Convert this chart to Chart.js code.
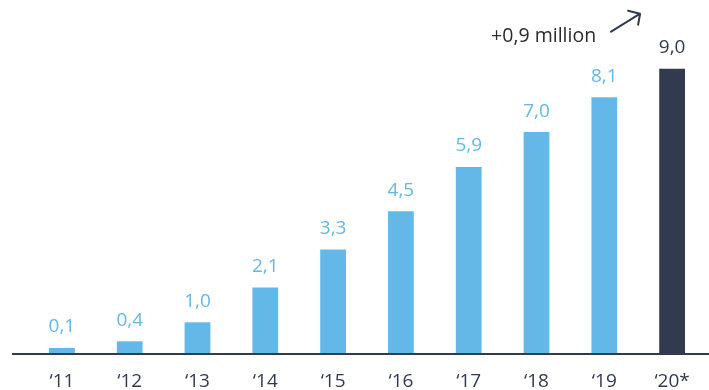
<!DOCTYPE html>
<html>
<head>
<meta charset="utf-8">
<script src="https://cdn.jsdelivr.net/npm/chart.js@4/dist/chart.umd.min.js"></script>
<style>
  html, body { margin: 0; padding: 0; background: #fff; }
  #wrap { width: 709px; height: 390px; position: relative; }
</style>
</head>
<body>
<div id="wrap"><canvas id="userChart"></canvas></div>
<script>
// Daten
const years = ["‘11", "‘12", "‘13", "‘14", "‘15", "‘16", "‘17", "‘18", "‘19", "‘20*"];
const users = [0.1, 0.4, 1.0, 2.1, 3.3, 4.5, 5.9, 7.0, 8.1, 9.0];
const valueLabels = ["0,1", "0,4", "1,0", "2,1", "3,3", "4,5", "5,9", "7,0", "8,1", "9,0"];
const growthNote = "+0,9 million";

const lightBlue = '#63b8e7';
const navy = '#323a50';
const fontName = '"Open Sans"';

const barColors = users.map((v, i) => i === users.length - 1 ? navy : lightBlue);

// Werte über den Balken + Grundlinie + Pfeil
const extrasPlugin = {
    id: 'extras',
    afterDatasetsDraw(chart) {
        const c = chart.ctx;
        const meta = chart.getDatasetMeta(0);
        const yZero = chart.scales.y.getPixelForValue(0);

        // Grundlinie
        c.save();
        c.strokeStyle = navy;
        c.lineWidth = 2;
        c.beginPath();
        c.moveTo(12, yZero);
        c.lineTo(chart.width, yZero);
        c.stroke();

        // Werte
        c.font = '19px ' + fontName;
        c.textAlign = 'center';
        c.textBaseline = 'middle';
        meta.data.forEach((bar, i) => {
            c.fillStyle = i === users.length - 1 ? navy : lightBlue;
            c.fillText(valueLabels[i], bar.x, bar.y - 21);
        });

        // Anmerkung
        const last = meta.data[meta.data.length - 1];
        c.fillStyle = '#2b2b2b';
        c.font = '19.5px ' + fontName;
        c.textAlign = 'right';
        c.fillText(growthNote, last.x - 76, last.y - 32);

        // Pfeil
        const x1 = last.x - 61, y1 = last.y - 37;
        const x2 = last.x - 32, y2 = last.y - 55;
        c.strokeStyle = navy;
        c.lineWidth = 2;
        c.lineCap = 'round';
        c.lineJoin = 'round';
        c.beginPath();
        c.moveTo(x1, y1);
        c.lineTo(x2, y2);
        c.moveTo(x2 - 12, y2 - 3);
        c.lineTo(x2, y2);
        c.lineTo(x2 - 2, y2 + 11);
        c.stroke();
        c.restore();
    }
};

const ctx = document.getElementById('userChart').getContext('2d');
new Chart(ctx, {
    type: 'bar',
    data: {
        labels: years,
        datasets: [{
            data: users,
            backgroundColor: barColors,
            borderWidth: 0,
            barPercentage: 0.38,
            categoryPercentage: 1.0,
            minBarLength: 6
        }]
    },
    options: {
        responsive: true,
        maintainAspectRatio: false,
        animation: false,
        layout: { padding: { left: 28, right: 3, top: 37, bottom: 0 } },
        plugins: {
            legend: { display: false },
            tooltip: { enabled: false }
        },
        scales: {
            x: {
                grid: { display: false },
                border: { display: false },
                afterFit: (scale) => { scale.height = 36; },
                ticks: {
                    color: navy,
                    font: { family: 'Open Sans', size: 19 },
                    padding: 8
                }
            },
            y: {
                display: false,
                min: 0,
                max: 10
            }
        }
    },
    plugins: [extrasPlugin]
});
</script>
</body>
</html>
